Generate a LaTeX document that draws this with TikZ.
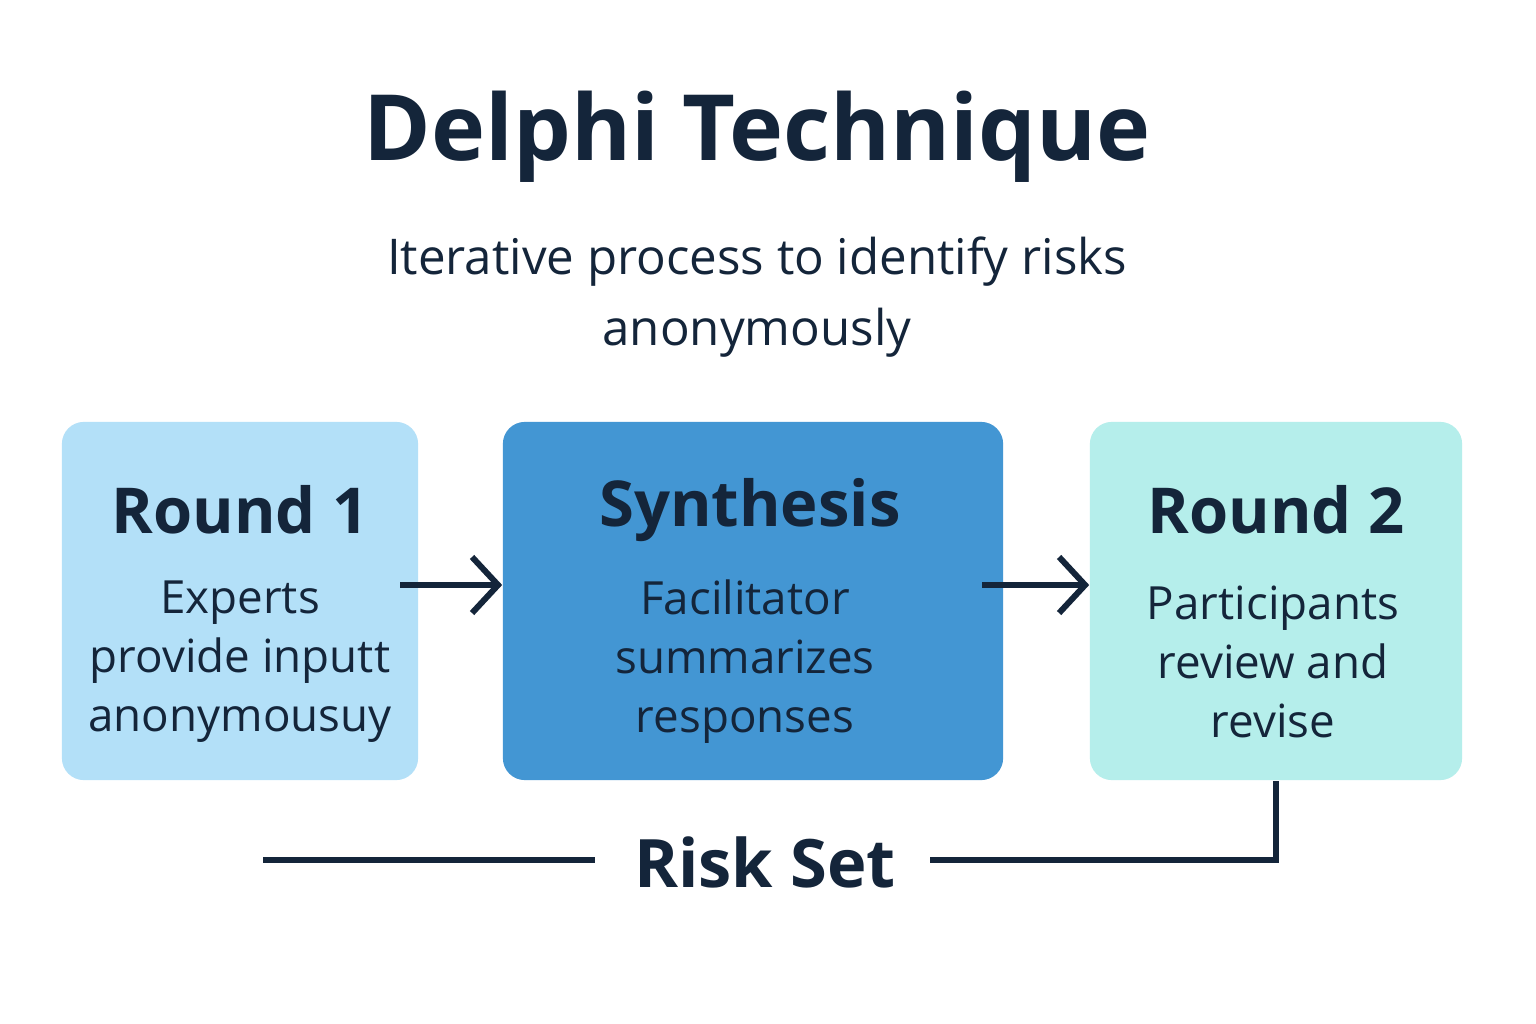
\documentclass[tikz,border=0pt]{standalone}
\usepackage{fontspec}
\setmainfont{Open Sans}[BoldFont={Open Sans Bold}]
\usetikzlibrary{arrows.meta,positioning}
\definecolor{ink}{HTML}{14253A}
\definecolor{roundone}{HTML}{B3E0F8}
\definecolor{synth}{HTML}{4396D3}
\definecolor{roundtwo}{HTML}{B5EEEB}
\tikzset{
  stage/.style={rounded corners=0.22cm, minimum height=3.58cm, inner sep=0pt},
  head/.style={font=\fontsize{18}{22}\selectfont\bfseries, text=ink},
  body/.style={font=\fontsize{13}{16.8}\selectfont, text=ink, align=center},
  flow/.style={draw=ink, line width=1.7pt, -{Straight Barb[length=2.6mm,width=5.6mm,line width=1.7pt]}},
  link/.style={draw=ink, line width=1.7pt}
}
\begin{document}
\begin{tikzpicture}[x=0.01cm,y=-0.01cm]
    \useasboundingbox[fill=white] (0,0) rectangle (1536,1024);

    \node[font=\fontsize{26}{31}\selectfont\bfseries, text=ink] (title) at (757,137) {Delphi Technique};
    \node[font=\fontsize{14}{20}\selectfont, text=ink, align=center] (sub) at (757,297)
        {Iterative process to identify risks\\anonymously};

    % stages
    \node[stage, fill=roundone, minimum width=3.56cm] (r1) at (240,601) {};
    \node[stage, fill=synth, minimum width=5.00cm] (syn) at (753,601) {};
    \node[stage, fill=roundtwo, minimum width=3.72cm] (r2) at (1276,601) {};

    \node[head] (r1h) at (240,510) {Round 1};
    \node[body] (r1b) at (240,662) {Experts\\provide inputt\\anonymousuy};
    \node[head] (synh) at (750,510) {Synthesis};
    \node[body] (synb) at (745,662) {Facilitator\\summarizes\\responses};
    \node[head] (r2h) at (1276,510) {Round 2};
    \node[body] (r2b) at (1273,662) {Participants\\review and\\revise};

    \coordinate (a1) at (400,585);
    \coordinate (a2) at (982,585);
    \draw[flow] (a1) -- (a1 -| syn.west);
    \draw[flow] (a2) -- (a2 -| r2.west);

    % result
    \node[font=\fontsize{19}{23}\selectfont\bfseries, text=ink] (risk) at (765,862) {Risk Set};
    \coordinate (l0) at (263,860);
    \coordinate (l1) at (595,860);
    \coordinate (l2) at (930,860);
    \draw[link] (l0) -- (l1);
    \draw[link] (l2) -| (r2.south);
\end{tikzpicture}
\end{document}
